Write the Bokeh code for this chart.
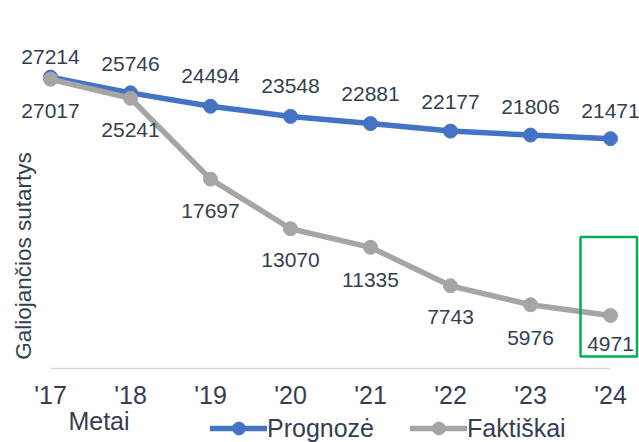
from bokeh.plotting import figure
from bokeh.models import (ColumnDataSource, LabelSet, Legend, LegendItem,
                          FixedTicker, Label, Range1d, BoxAnnotation)
from bokeh.core.properties import value
from bokeh.embed import file_html
from bokeh.resources import INLINE

# ---- data ----
years = ["'17", "'18", "'19", "'20", "'21", "'22", "'23", "'24"]
prognoze = [27214, 25746, 24494, 23548, 22881, 22177, 21806, 21471]
faktiskai = [27017, 25241, 17697, 13070, 11335, 7743, 5976, 4971]
series_names = ["Prognozė", "Faktiškai"]
x_title = "Metai"
y_title = "Galiojančios sutartys"

# ---- style / layout ----
TEXT = "#333F50"
BLUE = "#4472C4"
GRAY = "#A5A5A5"
GREEN = "#00B050"
FONT = "Liberation Sans"
prog_dy = [20, 29, 30, 30, 30, 29, 28, 28]     # label offset above point (px)
fakt_dy = [32, 32, 32, 31, 33, 31, 33, 28]     # label offset below point (px)

W, H = 639, 442
zero_px = 368.3      # canvas y of value 0
x_start_px = 50      # canvas x of first category
step_px = 80
units_per_px = 93.3

xs = list(range(len(years)))
x0 = -x_start_px / step_px
x1 = x0 + W / step_px
y0 = -(H - zero_px) * units_per_px
y1 = zero_px * units_per_px

def px_x(fx):
    return (fx - x_start_px) / step_px

def px_y(fy):
    return (zero_px - fy) * units_per_px

p = figure(width=W, height=H, x_range=Range1d(x0, x1), y_range=Range1d(y0, y1),
           output_backend="svg", toolbar_location=None,
           min_border_left=0, min_border_right=0, min_border_top=0,
           min_border_bottom=0, y_axis_location=None)
p.grid.visible = False
p.outline_line_color = None
p.background_fill_color = "white"

xa = p.xaxis[0]
xa.fixed_location = 0
xa.ticker = FixedTicker(ticks=xs)
xa.major_label_overrides = {i: t for i, t in enumerate(years)}
xa.bounds = (xs[0], xs[-1])
xa.axis_line_color = "#D9D9D9"
xa.axis_line_width = 1.5
xa.major_tick_line_color = None
xa.minor_tick_line_color = None
xa.major_label_text_font_size = "25px"
xa.major_label_text_font = FONT
xa.major_label_text_color = TEXT
xa.major_label_standoff = 6

src_p = ColumnDataSource(dict(x=xs, y=prognoze, t=[str(v) for v in prognoze], dy=prog_dy))
src_f = ColumnDataSource(dict(x=xs, y=faktiskai, t=[str(v) for v in faktiskai],
                              dy=[-d for d in fakt_dy]))

r1l = p.line('x', 'y', source=src_p, line_color=BLUE, line_width=5.5,
             line_join="round", line_cap="round")
r1m = p.scatter('x', 'y', source=src_p, size=14, fill_color=BLUE, line_color=BLUE)
r2l = p.line('x', 'y', source=src_f, line_color=GRAY, line_width=5.5,
             line_join="round", line_cap="round")
r2m = p.scatter('x', 'y', source=src_f, size=14, fill_color=GRAY, line_color=GRAY)

for src in (src_p, src_f):
    p.add_layout(LabelSet(x='x', y='y', text='t', source=src, y_offset='dy',
                          text_align='center', text_baseline='middle',
                          text_font_size='21px', text_color=TEXT,
                          text_font=value(FONT)))

# highlight box around last year
p.add_layout(BoxAnnotation(left=px_x(580), right=px_x(636.5), bottom=px_y(356), top=px_y(236.5),
                           fill_color=None, fill_alpha=0, line_color=GREEN,
                           line_alpha=1, line_width=2.5))

p.add_layout(Label(x=px_x(98.5), y=px_y(420), text=x_title, text_align="center",
                   text_baseline="middle", text_font=FONT, text_font_size="25px",
                   text_color=TEXT))
p.add_layout(Label(x=px_x(22.5), y=px_y(255.5), text=y_title, angle=90, angle_units="deg",
                   text_align="center", text_baseline="middle", text_font=FONT,
                   text_font_size="22.5px", text_color=TEXT))

legend = Legend(items=[LegendItem(label=series_names[0], renderers=[r1l, r1m]),
                       LegendItem(label=series_names[1], renderers=[r2l, r2m])],
                orientation="horizontal", location=(210, -2),
                glyph_width=57, glyph_height=32, label_standoff=0, spacing=36,
                padding=0, margin=0, border_line_color=None,
                background_fill_alpha=0, label_text_font_size="25px",
                label_text_font=FONT, label_text_color=TEXT)
p.add_layout(legend)

open("out.html", "w").write(file_html(p, INLINE))
